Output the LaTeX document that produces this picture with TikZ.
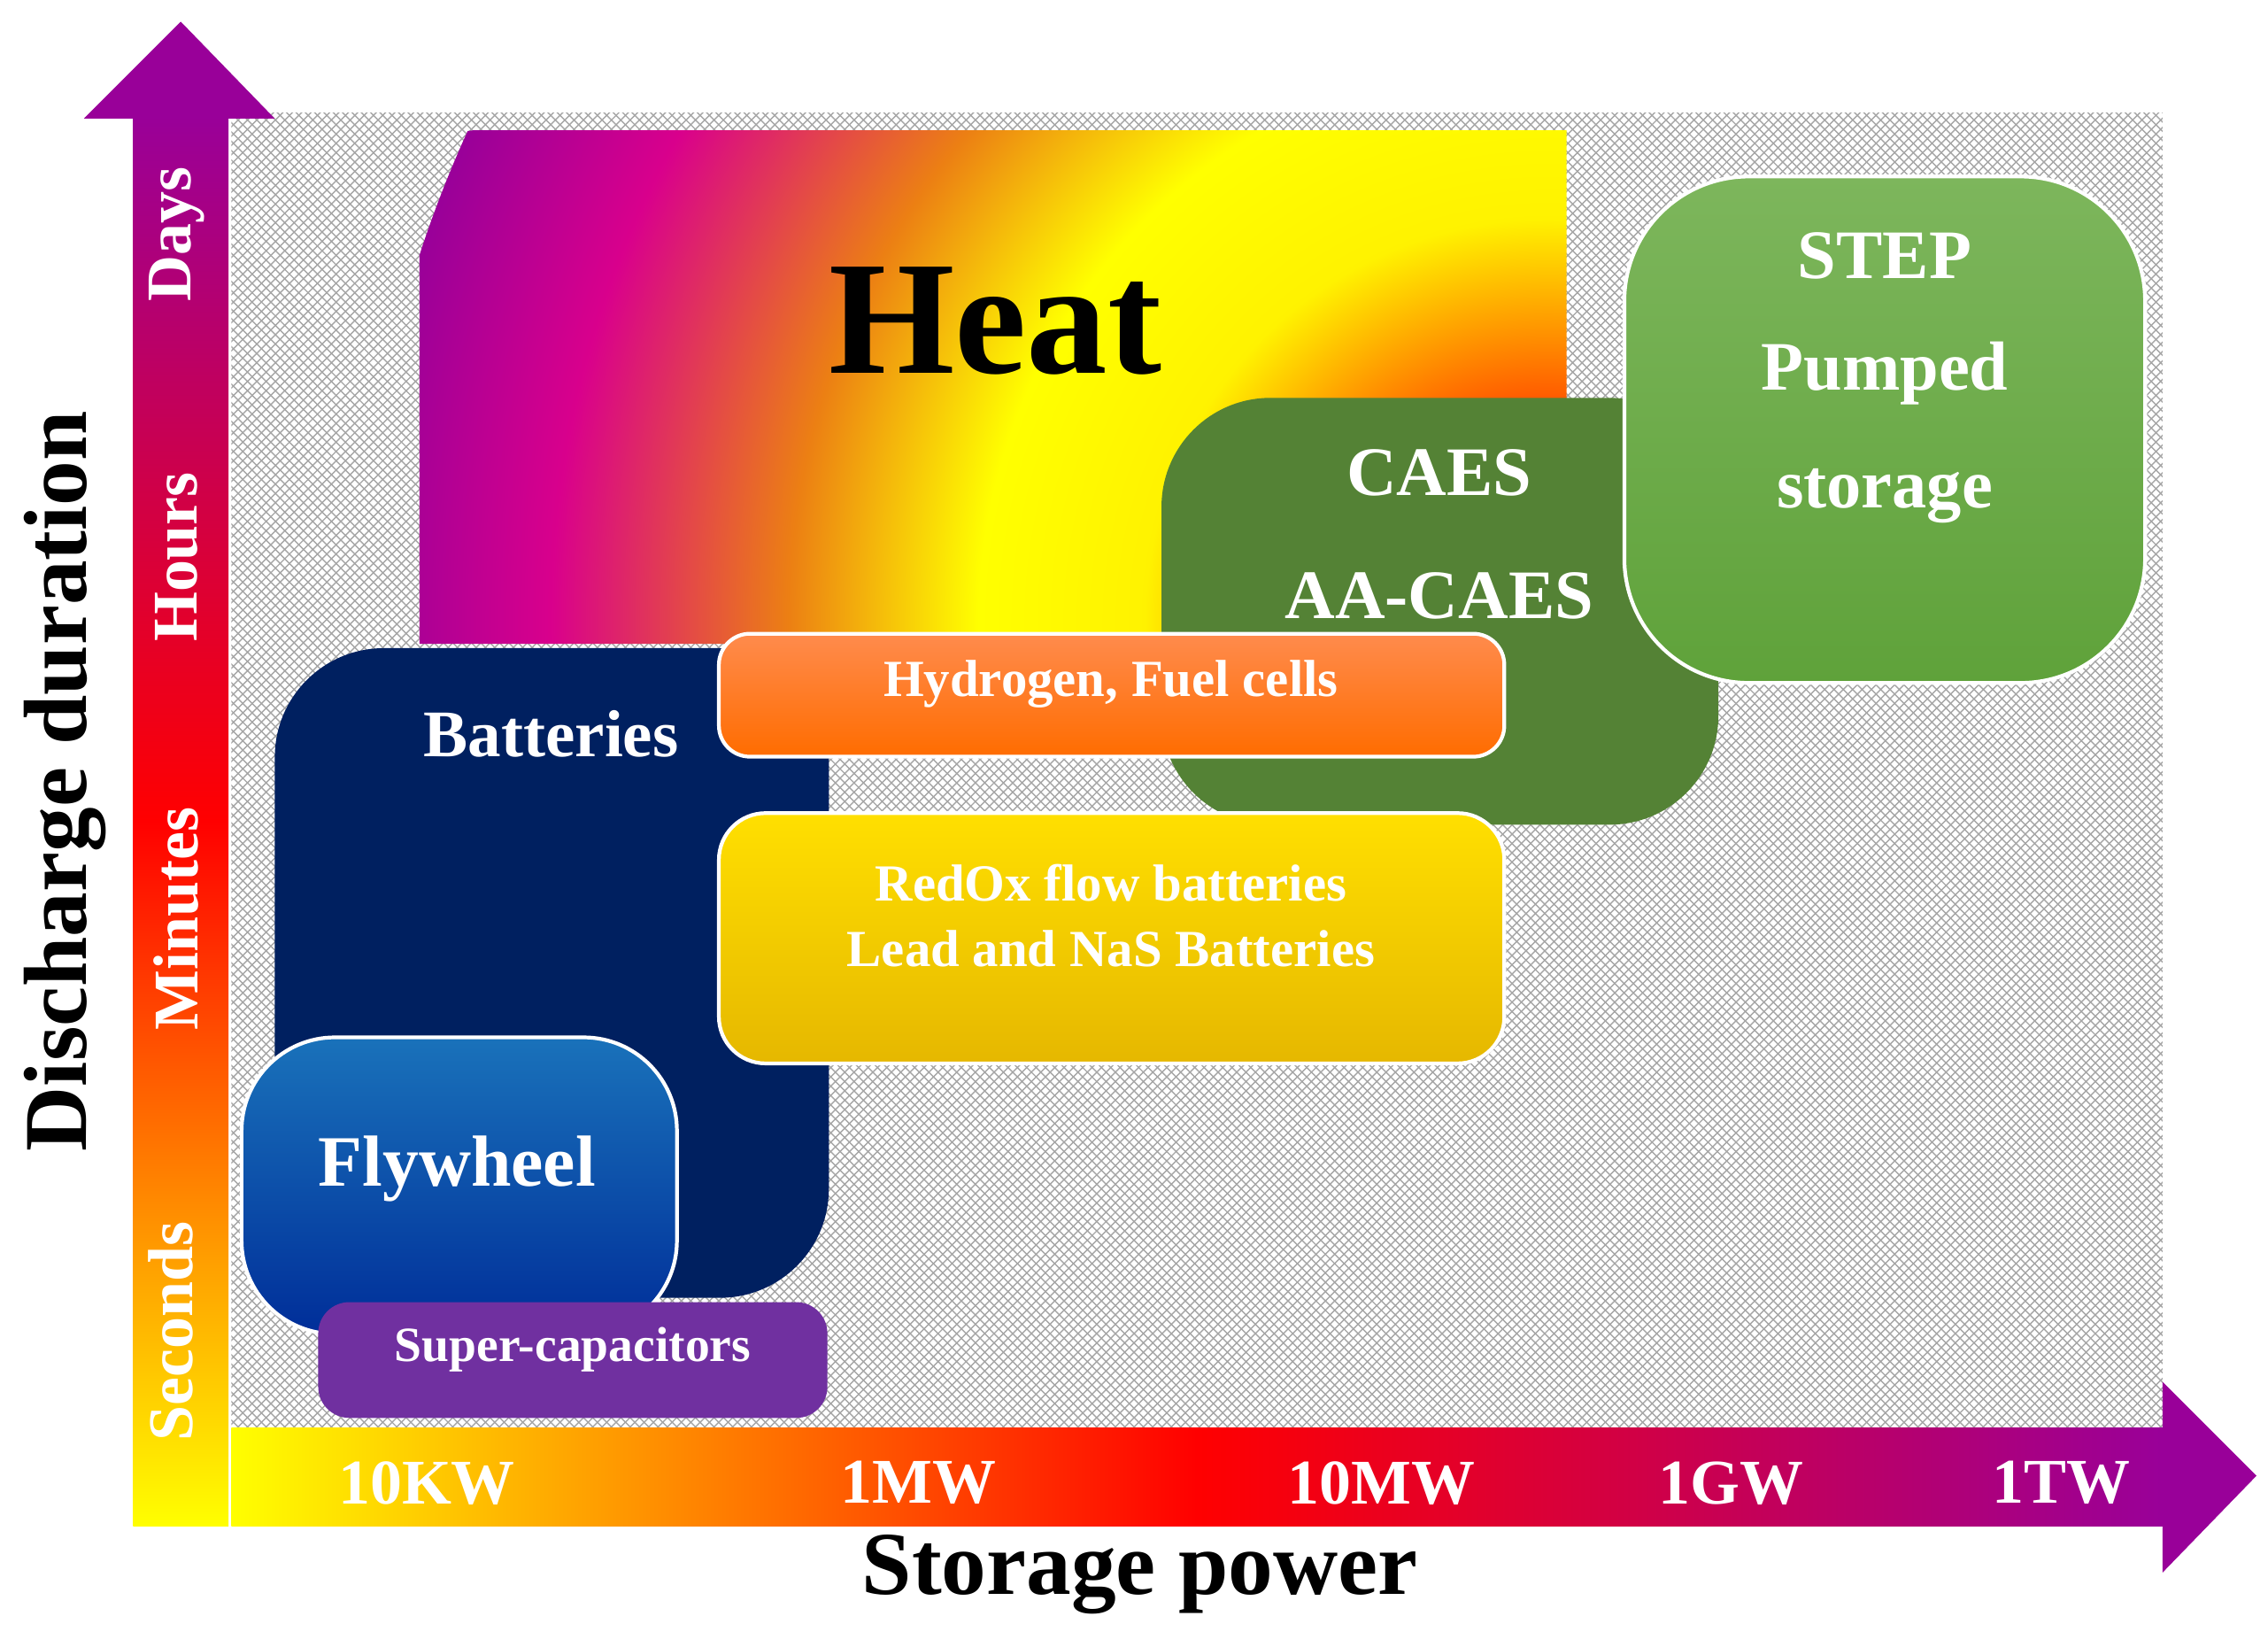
\documentclass[tikz,border=0pt]{standalone}
\usepackage{fontspec}
\setmainfont{Liberation Serif}
\usetikzlibrary{patterns}
\pgfdeclareradialshading{heat}{\pgfpoint{0bp}{0bp}}{%
 color(0bp)=(red!90!black); color(2.5bp)=(red); color(5bp)=(orange!80!red); color(8.5bp)=(yellow!90!orange); color(12bp)=(yellow); color(16bp)=(orange!70!brown); color(21bp)=(purple!60!magenta); color(25bp)=(violet!80!magenta); color(50bp)=(violet!80!magenta)}
\newcommand{\fsz}[1]{\fontsize{\dimexpr #1\dimexpr 0.465pt\relax\relax}{\dimexpr #1\dimexpr 0.55pt\relax\relax}\selectfont\bfseries}
\definecolor{navy}{HTML}{002060}
\definecolor{caes}{HTML}{548235}
\definecolor{stepA}{HTML}{7DB65C}
\definecolor{stepB}{HTML}{5FA23A}
\definecolor{supc}{HTML}{7030A0}
\tikzset{box/.style={rounded corners=#1, draw=white, line width=1.2pt},
 wt/.style={text=white, font=\fsz{44}, align=center},
 lbl/.style={text=white, font=\fsz{44}}}
\begin{document}
\begin{tikzpicture}[x=0.01634cm,y=-0.01634cm]
\useasboundingbox (0,0) rectangle (1568,1138);
% hatched background
\fill[white] (160,78) rectangle (1495,990);
\fill[pattern=crosshatch, pattern color=gray!70] (160,78) rectangle (1495,990);
% vertical arrow
\shade[bottom color=yellow, top color=violet!80!magenta, middle color=red] (92,1055) rectangle (158,80);
\fill[violet!80!magenta] (58,82) -- (125,15) -- (190,82) -- cycle;
% horizontal arrow
\shade[left color=yellow, right color=violet!80!magenta, middle color=red] (160,987) rectangle (1495,1055);
\fill[violet!80!magenta] (1495,955) -- (1560,1020) -- (1495,1087) -- cycle;
% axis labels
\node[lbl, rotate=90] (sec) at (118,920) {Seconds};
\node[lbl, rotate=90] (min) at (122,635) {Minutes};
\node[lbl, rotate=90] (hrs) at (122,385) {Hours};
\node[lbl, rotate=90] (days) at (122,162) {Days};
\node[font=\fsz{62}, rotate=90] (dd) at (45,540) {Discharge duration};
\node[lbl] (k10) at (295,1025) {10KW};
\node[lbl] (m1) at (635,1025) {1MW};
\node[lbl] (m10) at (955,1025) {10MW};
\node[lbl] (g1) at (1197,1025) {1GW};
\node[lbl] (t1) at (1425,1025) {1TW};
\node[font=\fsz{62}] (sp) at (788,1088) {Storage power};
% heat
\begin{scope}
\clip (1083,445) -- (290,445) -- (290,130) arc[start angle=180, end angle=270, radius=40] -- (1083,90) -- cycle;
\shade[shading=heat] (1070,430) circle (820);
\end{scope}
\node[font=\fsz{112}] (heat) at (688,222) {Heat};
% CAES
\fill[caes, rounded corners=35] (803,275) rectangle (1188,570);
\node[wt, font=\fsz{48}] (caes) at (995,327) {CAES};
\node[wt, font=\fsz{48}] (aacaes) at (995,412) {AA-CAES};
% STEP
\shade[box=40, top color=stepA, bottom color=stepB] (1123,122) rectangle (1483,472);
\node[wt, font=\fsz{48}] (step) at (1303,177) {STEP};
\node[wt, font=\fsz{48}] (pumped) at (1303,258) {Pumped};
\node[wt, font=\fsz{48}] (storage) at (1303,343) {storage};
% Batteries
\fill[navy, rounded corners=35] (190,448) rectangle (573,897);
\node[wt, font=\fsz{46}] (bat) at (381,507) {Batteries};
% Hydrogen
\shade[box=10, top color=orange!70!red!70!white, bottom color=orange!85!red] (497,438) rectangle (1040,523);
\node[wt, font=\fsz{36}] (h2) at (768,473) {Hydrogen, Fuel cells};
% RedOx
\shade[box=15, top color=yellow!75!orange, bottom color=yellow!60!orange!90!black] (497,562) rectangle (1040,735);
\node[wt, font=\fsz{36}] (redox) at (768,610) {RedOx flow batteries};
\node[wt, font=\fsz{36}] (lead) at (768,656) {Lead and NaS Batteries};
% Flywheel
\shade[box=30, top color=blue!45!cyan!70!black!90!white, bottom color=blue!70!cyan!60!black] (167,717) rectangle (468,922);
\node[wt, font=\fsz{50}] (fly) at (316,808) {Flywheel};
% Super-capacitors
\fill[supc, rounded corners=10] (220,900) rectangle (572,980);
\node[wt, font=\fsz{34}] (sc) at (396,933) {Super-capacitors};
\end{tikzpicture}
\end{document}
